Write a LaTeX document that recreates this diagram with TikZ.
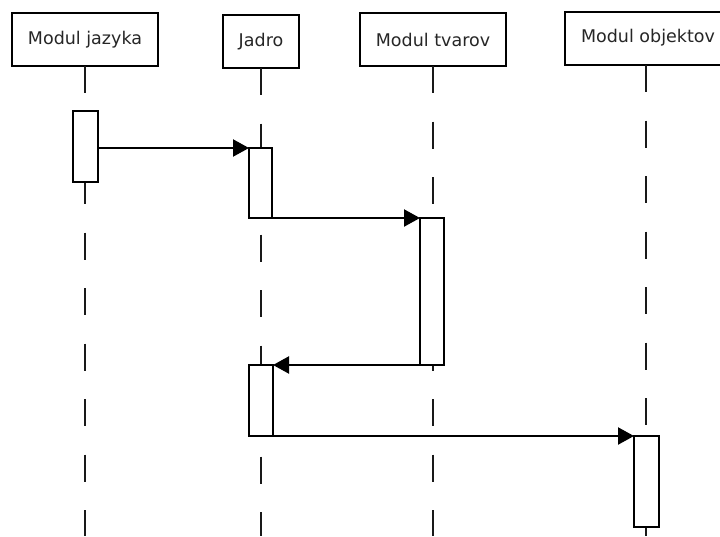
\documentclass[tikz,border=0pt]{standalone}
\usepackage{fontspec}
\setmainfont{DejaVu Sans}
\usetikzlibrary{arrows.meta}
\begin{document}
\begin{tikzpicture}[x=1pt,y=-1pt,
  hdr/.style={draw=black, line width=2.2pt, fill=white, inner sep=0pt, outer sep=0pt, font=\fontsize{17.5}{20}\selectfont, text=black!85},
  act/.style={draw=black, line width=2.2pt, fill=white, inner sep=0pt, outer sep=0pt},
  life/.style={draw=black!90, line width=1.8pt, dash pattern=on 27pt off 28.5pt},
  msg/.style={draw=black, line width=2.2pt, -{Triangle[length=16pt,width=17pt]}}]
\useasboundingbox (0,0) rectangle (720,536);
\fill[white] (0,0) rectangle (720,536);
% headers
\node[hdr, minimum width=146pt, minimum height=53pt] (jaz) at (85,39.5) {Modul jazyka};
\node[hdr, minimum width=76pt, minimum height=53pt] (jad) at (261,41.5) {Jadro};
\node[hdr, minimum width=146pt, minimum height=53pt] (tva) at (433,39.5) {Modul tvarov};
\node[hdr, minimum width=162pt, minimum height=53pt] (obj) at (646,38.5) {};
\node[font=\fontsize{17.5}{20}\selectfont, text=black!85, inner sep=0pt] (objt) at (648,38) {Modul objektov};
% lifeline ends
\coordinate (jazE) at (85,536);
\coordinate (jadE) at (261,536);
\coordinate (tvaE) at (433,536);
\coordinate (objE) at (646,536);
\draw[life] (jaz.south) -- (jazE);
\draw[life] (jad.south) -- (jadE);
\draw[life] (tva.south) -- (tvaE);
\draw[life] (obj.south) -- (objE);
% activations
\node[act, minimum width=25pt, minimum height=71pt] (a1) at (85.5,146.5) {};
\node[act, minimum width=23pt, minimum height=70pt] (a2) at (260.5,183) {};
\node[act, minimum width=24pt, minimum height=147pt] (a3) at (432,291.5) {};
\node[act, minimum width=24pt, minimum height=71pt] (a4) at (261,400.5) {};
\node[act, minimum width=25pt, minimum height=91pt] (a5) at (646.5,481.5) {};
% messages
\draw[msg] (a1.east |- a2.north) -- (a2.north west);
\draw[msg] (a2.south east) -- (a3.north west);
\draw[msg] (a3.south west) -- (a4.north east);
\draw[msg] (a4.south east) -- (a5.north west);
\end{tikzpicture}
\end{document}
